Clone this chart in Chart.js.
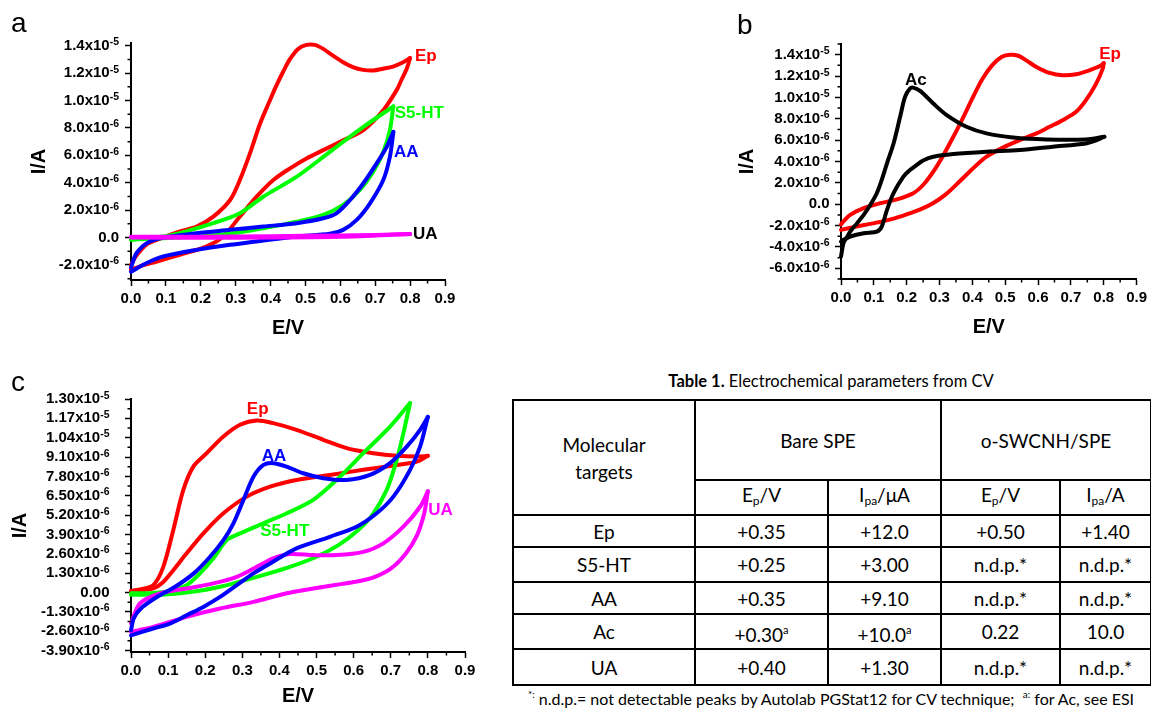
<!DOCTYPE html>
<html>
<head>
<meta charset="utf-8">
<script src="https://cdn.jsdelivr.net/npm/chart.js@4.4.1/dist/chart.umd.min.js"></script>
<style>
  body { margin: 0; background: #fff; }
  #page { position: relative; width: 1151px; height: 708px; overflow: hidden; background: #fff; }
  canvas { position: absolute; }
  .letter { position: absolute; font-family: 'Liberation Sans', Arial, sans-serif; font-size: 28px; line-height: 28px; color: #000; }
  #tblTitle { position: absolute; left: 512px; top: 371px; width: 638px; text-align: center; font-family: Lato, 'Open Sans', sans-serif; font-size: 16.5px; color: #000; }
  #tbl { position: absolute; left: 512px; top: 399px; width: 638px; border-collapse: collapse; table-layout: fixed; font-family: Lato, 'Open Sans', sans-serif; font-size: 19px; color: #000; }
  #tbl td { border: 2px solid #000; text-align: center; vertical-align: middle; padding: 0; line-height: 27px; }
  #tbl sub { font-size: 12px; vertical-align: -3px; }
  #tbl sup { font-size: 11px; vertical-align: 8px; }
  #footnote { position: absolute; left: 505px; top: 688px; width: 652px; text-align: center; font-family: Lato, 'Open Sans', sans-serif; font-size: 16px; color: #000; white-space: nowrap; }
  #footnote sup { font-size: 10px; vertical-align: 7px; }
</style>
</head>
<body>
<div id="page">
  <canvas id="chartA" width="480" height="340" style="left:0;top:0"></canvas>
  <canvas id="chartB" width="431" height="340" style="left:720px;top:0"></canvas>
  <canvas id="chartC" width="480" height="348" style="left:0;top:360px"></canvas>
  <div class="letter" style="left:11px;top:9px">a</div>
  <div class="letter" style="left:737px;top:11px">b</div>
  <div class="letter" style="left:11px;top:368px">c</div>

  <div id="tblTitle"><b>Table 1.</b> Electrochemical parameters from CV</div>
  <table id="tbl">
    <colgroup><col style="width:182px"><col style="width:133px"><col style="width:113px"><col style="width:119px"><col style="width:91px"></colgroup>
    <tr style="height:80px"><td rowspan="2">Molecular<br>targets</td><td colspan="2">Bare SPE</td><td colspan="2">o-SWCNH/SPE</td></tr>
    <tr style="height:32px"><td>E<sub>p</sub>/V</td><td>I<sub>pa</sub>/μA</td><td>E<sub>p</sub>/V</td><td>I<sub>pa</sub>/A</td></tr>
    <tr style="height:32px"><td>Ep</td><td>+0.35</td><td>+12.0</td><td>+0.50</td><td>+1.40</td></tr>
    <tr style="height:35px"><td>S5-HT</td><td>+0.25</td><td>+3.00</td><td>n.d.p.*</td><td>n.d.p.*</td></tr>
    <tr style="height:32px"><td>AA</td><td>+0.35</td><td>+9.10</td><td>n.d.p.*</td><td>n.d.p.*</td></tr>
    <tr style="height:35px"><td>Ac</td><td>+0.30<sup>a</sup></td><td>+10.0<sup>a</sup></td><td>0.22</td><td>10.0</td></tr>
    <tr style="height:36px"><td>UA</td><td>+0.40</td><td>+1.30</td><td>n.d.p.*</td><td>n.d.p.*</td></tr>
  </table>
  <div id="footnote"><sup>*:</sup> n.d.p.= not detectable peaks by Autolab PGStat12 for CV technique;&nbsp; <sup>a:</sup> for Ac, see ESI</div>
</div>

<script>
// Colours
const RED = '#ff0000';
const GREEN = '#00ff00';
const BLUE = '#0000ff';
const MAGENTA = '#ff00ff';
const BLACK = '#000000';
const FONT = "'Liberation Sans', Arial, sans-serif";

// Shared potential axis (E/V)
const xTicks = [0, 0.1, 0.2, 0.3, 0.4, 0.5, 0.6, 0.7, 0.8, 0.9];
const xTickLabels = ['0.0', '0.1', '0.2', '0.3', '0.4', '0.5', '0.6', '0.7', '0.8', '0.9'];
const xMinor = [0.05, 0.15, 0.25, 0.35, 0.45, 0.55, 0.65, 0.75, 0.85];

// Panel a - current in microamps, points are [E, I]
// tick labels are [mantissa part, exponent]
const aYTicks = [-2, 0, 2, 4, 6, 8, 10, 12, 14];
const aYTickLabels = [['-2.0x10', '-6'], ['0.0', ''], ['2.0x10', '-6'], ['4.0x10', '-6'], ['6.0x10', '-6'], ['8.0x10', '-6'], ['1.0x10', '-5'], ['1.2x10', '-5'], ['1.4x10', '-5']];
const aYMinor = [-3, -1, 1, 3, 5, 7, 9, 11, 13];

const aEpForward = [[0, -2.0], [0.016, -1.3], [0.045, -0.5], [0.074, -0.17], [0.14, 0.44], [0.188, 0.8], [0.236, 1.53], [0.284, 2.74], [0.312, 4.2], [0.341, 6.14], [0.37, 8.32], [0.398, 10.0], [0.415, 11.0], [0.436, 12.1], [0.455, 13.0], [0.479, 13.77], [0.503, 14.06], [0.527, 14.06], [0.551, 13.77], [0.579, 13.28], [0.608, 12.8], [0.636, 12.44], [0.665, 12.24], [0.694, 12.19], [0.722, 12.32], [0.751, 12.48], [0.78, 12.8], [0.80, 13.1]];
const aEpReverse = [[0.80, 13.1], [0.79, 12.3], [0.775, 11.5], [0.761, 10.74], [0.723, 9.29], [0.666, 7.83], [0.608, 7.1], [0.551, 6.38], [0.503, 5.77], [0.456, 5.05], [0.408, 4.2], [0.36, 2.98], [0.312, 1.53], [0.264, 0.07], [0.217, -0.65], [0.14, -1.26], [0.074, -1.75], [0.026, -2.1], [0, -2.35]];
const aS5Forward = [[0, -0.12], [0.093, -0.05], [0.188, 0.07], [0.284, 0.27], [0.379, 0.68], [0.475, 1.16], [0.551, 1.65], [0.608, 2.38], [0.656, 3.47], [0.694, 4.8], [0.723, 6.25], [0.742, 7.83], [0.752, 9.58]];
const aS5Reverse = [[0.752, 9.58], [0.666, 8.07], [0.57, 6.25], [0.475, 4.44], [0.379, 2.98], [0.312, 1.77], [0.236, 1.05], [0.14, 0.32], [0.093, 0.07], [0, -0.17]];
const aAAForward = [[0, -2.2], [0.016, -1.13], [0.054, -0.29], [0.112, 0.07], [0.188, 0.32], [0.284, 0.56], [0.379, 0.8], [0.475, 1.05], [0.551, 1.41], [0.589, 1.77], [0.628, 2.74], [0.666, 3.96], [0.704, 5.41], [0.733, 6.62], [0.752, 7.71]];
const aAAReverse = [[0.752, 7.71], [0.742, 5.89], [0.723, 4.2], [0.685, 2.5], [0.647, 1.29], [0.608, 0.56], [0.57, 0.27], [0.475, 0.07], [0.379, -0.22], [0.284, -0.53], [0.188, -0.9], [0.093, -1.38], [0.045, -1.86], [0, -2.5]];
const aUAForward = [[0, 0.05], [0.2, 0.06], [0.4, 0.1], [0.6, 0.15], [0.7, 0.18], [0.8, 0.25]];
const aUAReverse = [[0.8, 0.25], [0.6, 0.05], [0.4, 0.0], [0.2, -0.02], [0, 0.0]];

// Panel b
const bYTicks = [-6, -4, -2, 0, 2, 4, 6, 8, 10, 12, 14];
const bYTickLabels = [['-6.0x10', '-6'], ['-4.0x10', '-6'], ['-2.0x10', '-6'], ['0.0', ''], ['2.0x10', '-6'], ['4.0x10', '-6'], ['6.0x10', '-6'], ['8.0x10', '-6'], ['1.0x10', '-5'], ['1.2x10', '-5'], ['1.4x10', '-5']];
const bYMinor = [-7, -5, -3, -1, 1, 3, 5, 7, 9, 11, 13, 15];

const bEpForward = [[0, -1.9], [0.003, -1.77], [0.028, -1.0], [0.069, -0.37], [0.119, 0.09], [0.17, 0.45], [0.22, 1.03], [0.25, 1.8], [0.28, 3.0], [0.31, 4.5], [0.34, 6.2], [0.37, 8.0], [0.40, 9.9], [0.43, 11.7], [0.46, 13.0], [0.49, 13.8], [0.515, 14.0], [0.54, 13.9], [0.564, 13.47], [0.595, 12.85], [0.635, 12.29], [0.675, 12.07], [0.716, 12.17], [0.756, 12.54], [0.787, 12.91], [0.80, 13.2]];
const bEpReverse = [[0.80, 13.2], [0.797, 12.69], [0.777, 11.29], [0.746, 9.74], [0.716, 8.65], [0.675, 7.87], [0.635, 7.25], [0.595, 6.63], [0.544, 6.0], [0.493, 5.3], [0.443, 4.45], [0.40, 3.3], [0.36, 2.1], [0.32, 0.95], [0.28, 0.1], [0.24, -0.5], [0.2, -0.95], [0.16, -1.35], [0.12, -1.65], [0.07, -1.95], [0.03, -2.2], [0, -2.4]];
const bAcForward = [[0, -4.9], [0.008, -3.6], [0.018, -3.1], [0.028, -2.56], [0.049, -1.77], [0.069, -1.0], [0.089, -0.07], [0.109, 1.03], [0.124, 2.27], [0.14, 3.83], [0.16, 5.69], [0.18, 8.18], [0.195, 10.05], [0.21, 10.83], [0.22, 10.92], [0.241, 10.61], [0.281, 9.43], [0.322, 8.34], [0.382, 7.25], [0.443, 6.63], [0.524, 6.25], [0.625, 6.07], [0.746, 6.07], [0.802, 6.32]];
const bAcReverse = [[0.802, 6.32], [0.77, 5.9], [0.746, 5.69], [0.645, 5.38], [0.544, 5.07], [0.443, 4.92], [0.342, 4.7], [0.281, 4.45], [0.25, 4.1], [0.23, 3.67], [0.21, 3.2], [0.19, 2.58], [0.16, 1.03], [0.14, -0.53], [0.124, -2.09], [0.109, -2.56], [0.069, -2.71], [0.028, -3.02], [0.008, -3.33], [0, -3.5]];

// Panel c
const cYTicks = [-3.9, -2.6, -1.3, 0, 1.3, 2.6, 3.9, 5.2, 6.5, 7.8, 9.1, 10.4, 11.7, 13.0];
const cYTickLabels = [['-3.90x10', '-6'], ['-2.60x10', '-6'], ['-1.30x10', '-6'], ['0.00', ''], ['1.30x10', '-6'], ['2.60x10', '-6'], ['3.90x10', '-6'], ['5.20x10', '-6'], ['6.50x10', '-6'], ['7.80x10', '-6'], ['9.10x10', '-6'], ['1.04x10', '-5'], ['1.17x10', '-5'], ['1.30x10', '-5']];
const cYMinor = [-3.25, -1.95, -0.65, 0.65, 1.95, 3.25, 4.55, 5.85, 7.15, 8.45, 9.75, 11.05, 12.35];

const cEpForward = [[0, 0.1], [0.024, 0.2], [0.06, 0.49], [0.087, 1.72], [0.114, 4.2], [0.141, 6.89], [0.168, 8.46], [0.204, 9.36], [0.249, 10.48], [0.294, 11.27], [0.339, 11.56], [0.383, 11.38], [0.446, 10.93], [0.518, 10.26], [0.581, 9.7], [0.653, 9.36], [0.716, 9.18], [0.77, 9.13], [0.80, 9.18]];
const cEpReverse = [[0.80, 9.18], [0.77, 8.79], [0.716, 8.57], [0.626, 8.24], [0.536, 7.9], [0.446, 7.56], [0.375, 7.11], [0.312, 6.44], [0.249, 5.32], [0.195, 3.97], [0.15, 2.63], [0.114, 1.5], [0.087, 0.71], [0.06, 0.27], [0.024, 0.15], [0, 0.1]];
const cS5Forward = [[0, -0.15], [0.06, -0.15], [0.12, -0.08], [0.18, 0.1], [0.24, 0.38], [0.33, 0.98], [0.42, 1.65], [0.5, 2.4], [0.56, 3.2], [0.61, 4.15], [0.65, 5.2], [0.689, 6.89], [0.716, 8.91], [0.734, 10.7], [0.752, 12.73]];
const cS5Reverse = [[0.752, 12.73], [0.698, 11.15], [0.626, 9.36], [0.554, 7.56], [0.491, 6.22], [0.42, 5.32], [0.357, 4.65], [0.294, 3.97], [0.258, 3.52], [0.222, 2.3], [0.186, 1.28], [0.15, 0.49], [0.105, 0.1], [0.05, -0.05], [0, -0.05]];
const cAAForward = [[0, -2.88], [0.06, -2.42], [0.105, -2.09], [0.15, -1.53], [0.195, -0.97], [0.24, -0.3], [0.285, 0.49], [0.33, 1.28], [0.375, 1.95], [0.446, 2.96], [0.536, 3.74], [0.608, 4.42], [0.662, 5.32], [0.707, 6.44], [0.752, 8.24], [0.779, 9.8], [0.80, 11.8]];
const cAAReverse = [[0.80, 11.8], [0.779, 10.93], [0.743, 9.8], [0.698, 8.69], [0.644, 7.9], [0.581, 7.56], [0.518, 7.68], [0.464, 8.01], [0.419, 8.46], [0.383, 8.69], [0.357, 8.57], [0.33, 7.78], [0.303, 6.22], [0.276, 4.65], [0.249, 3.52], [0.213, 2.4], [0.17, 1.3], [0.12, 0.4], [0.07, -0.3], [0.03, -1.0], [0.008, -1.7], [0, -2.54]];
const cUAForward = [[0, -2.65], [0.06, -2.32], [0.15, -1.64], [0.24, -1.08], [0.33, -0.63], [0.42, -0.05], [0.5, 0.3], [0.55, 0.5], [0.6, 0.7], [0.65, 0.98], [0.7, 1.6], [0.74, 2.6], [0.77, 3.8], [0.79, 5.3], [0.80, 6.8]];
const cUAReverse = [[0.80, 6.8], [0.779, 5.76], [0.734, 4.42], [0.68, 3.3], [0.626, 2.73], [0.554, 2.51], [0.491, 2.51], [0.428, 2.58], [0.383, 2.29], [0.339, 1.72], [0.285, 1.05], [0.222, 0.61], [0.15, 0.27], [0.078, -0.07], [0.024, -0.74], [0, -2.09]];

// Curve name labels, anchored at [E, I] of their left edge
const aNames = [
    { text: 'Ep', e: 0.814, i: 13.2, color: RED },
    { text: 'S5-HT', e: 0.756, i: 9.05, color: GREEN },
    { text: 'AA', e: 0.754, i: 6.25, color: BLUE },
    { text: 'UA', e: 0.808, i: 0.2, color: BLACK }
];
const bNames = [
    { text: 'Ac', e: 0.195, i: 11.6, color: BLACK },
    { text: 'Ep', e: 0.786, i: 14.0, color: RED }
];
const cNames = [
    { text: 'Ep', e: 0.312, i: 12.28, color: RED },
    { text: 'AA', e: 0.352, i: 9.13, color: BLUE },
    { text: 'S5-HT', e: 0.348, i: 4.08, color: GREEN },
    { text: 'UA', e: 0.801, i: 5.54, color: MAGENTA }
];

function curve(points, color) {
    return {
        data: points.map(p => ({ x: p[0], y: p[1] })),
        borderColor: color,
        backgroundColor: color,
        showLine: true,
        pointRadius: 0,
        borderWidth: 4,
        tension: 0.3,
        borderCapStyle: 'round',
        borderJoinStyle: 'round',
        clip: false
    };
}

// Short outward ticks between the labelled ones
function minorTicks(xVals, yVals) {
    return {
        id: 'minorTicks',
        afterDraw(chart) {
            const { ctx } = chart;
            const x = chart.scales.x;
            const y = chart.scales.y;
            ctx.save();
            ctx.strokeStyle = '#000';
            ctx.lineWidth = 1.5;
            ctx.beginPath();
            xVals.forEach(v => {
                const px = x.getPixelForValue(v);
                ctx.moveTo(px, x.top);
                ctx.lineTo(px, x.top + 3.5);
            });
            yVals.forEach(v => {
                const py = y.getPixelForValue(v);
                ctx.moveTo(y.right, py);
                ctx.lineTo(y.right - 3.5, py);
            });
            ctx.stroke();
            ctx.restore();
        }
    };
}

// y tick labels with a raised exponent, e.g. 1.4x10 with -5 above
function yTickText(vals, labels, pad) {
    return {
        id: 'yTickText',
        afterDraw(chart) {
            const { ctx } = chart;
            const y = chart.scales.y;
            const right = y.right - 6 - pad;
            ctx.save();
            ctx.fillStyle = '#000';
            ctx.textAlign = 'right';
            vals.forEach((v, k) => {
                const py = y.getPixelForValue(v);
                const base = labels[k][0];
                const exp = labels[k][1];
                let ew = 0;
                if (exp) {
                    ctx.font = 'bold 10.5px ' + FONT;
                    ew = ctx.measureText(exp).width;
                    ctx.textBaseline = 'alphabetic';
                    ctx.fillText(exp, right, py - 0.5);
                }
                ctx.font = 'bold 15px ' + FONT;
                ctx.textBaseline = 'middle';
                ctx.fillText(base, right - ew, py);
            });
            ctx.restore();
        }
    };
}

function curveNames(items) {
    return {
        id: 'curveNames',
        afterDatasetsDraw(chart) {
            const { ctx } = chart;
            const x = chart.scales.x;
            const y = chart.scales.y;
            ctx.save();
            ctx.font = 'bold 17px ' + FONT;
            ctx.textAlign = 'left';
            ctx.textBaseline = 'middle';
            items.forEach(l => {
                ctx.fillStyle = l.color;
                ctx.fillText(l.text, x.getPixelForValue(l.e), y.getPixelForValue(l.i));
            });
            ctx.restore();
        }
    };
}

function buildChart(id, cfg) {
    const tickFont = { family: FONT, size: 15, weight: 'bold' };
    const titleFont = { family: FONT, size: 20, weight: 'bold', lineHeight: 1 };
    const gridCfg = { display: true, drawOnChartArea: false, drawTicks: true, tickLength: 6, tickWidth: 1.5, tickColor: '#000', color: '#000' };
    return new Chart(document.getElementById(id), {
        type: 'scatter',
        data: { datasets: cfg.datasets },
        options: {
            responsive: false,
            animation: false,
            events: [],
            layout: { padding: cfg.padding },
            plugins: { legend: { display: false }, tooltip: { enabled: false } },
            scales: {
                x: {
                    type: 'linear',
                    min: 0,
                    max: 0.9,
                    grid: gridCfg,
                    border: { display: true, color: '#000', width: 2 },
                    afterBuildTicks: s => { s.ticks = xTicks.map(v => ({ value: v })); },
                    afterFit: s => { s.height = cfg.xHeight; },
                    ticks: { autoSkip: false, maxRotation: 0, padding: 4, color: '#000', font: tickFont, callback: (v, i) => xTickLabels[i] },
                    title: { display: true, text: 'E/V', color: '#000', font: titleFont, padding: { top: 0, bottom: cfg.xTitlePad } }
                },
                y: {
                    type: 'linear',
                    min: cfg.yMin,
                    max: cfg.yMax,
                    grid: gridCfg,
                    border: { display: true, color: '#000', width: 2 },
                    afterBuildTicks: s => { s.ticks = cfg.yTicks.map(v => ({ value: v })); },
                    afterFit: s => { s.width = cfg.yWidth; },
                    ticks: { display: false },
                    title: { display: true, text: 'I/A', color: '#000', font: titleFont, padding: { top: cfg.yTitlePad, bottom: 0 } }
                }
            }
        },
        plugins: [minorTicks(xMinor, cfg.yMinor), yTickText(cfg.yTicks, cfg.yTickLabels, cfg.yTickPad), curveNames(cfg.names)]
    });
}

// Panel a: first dataset is drawn on top
buildChart('chartA', {
    datasets: [
        curve(aUAForward, MAGENTA), curve(aUAReverse, MAGENTA),
        curve(aAAForward, BLUE), curve(aAAReverse, BLUE),
        curve(aS5Forward, GREEN), curve(aS5Reverse, GREEN),
        curve(aEpForward, RED), curve(aEpReverse, RED)
    ],
    padding: { left: 0, top: 43, right: 35, bottom: 0 },
    yWidth: 131, xHeight: 60,
    yMin: -3.1, yMax: 14.2,
    yTicks: aYTicks, yTickLabels: aYTickLabels, yMinor: aYMinor,
    yTickPad: 6, yTitlePad: 29, xTitlePad: 2,
    names: aNames
});

buildChart('chartB', {
    datasets: [
        curve(bAcForward, BLACK), curve(bAcReverse, BLACK),
        curve(bEpForward, RED), curve(bEpReverse, RED)
    ],
    padding: { left: 0, top: 44, right: 14, bottom: 0 },
    yWidth: 121, xHeight: 61,
    yMin: -7, yMax: 15,
    yTicks: bYTicks, yTickLabels: bYTickLabels, yMinor: bYMinor,
    yTickPad: 5.5, yTitlePad: 17, xTitlePad: 3,
    names: bNames
});

buildChart('chartC', {
    datasets: [
        curve(cAAForward, BLUE), curve(cAAReverse, BLUE),
        curve(cUAForward, MAGENTA), curve(cUAReverse, MAGENTA),
        curve(cS5Forward, GREEN), curve(cS5Reverse, GREEN),
        curve(cEpForward, RED), curve(cEpReverse, RED)
    ],
    padding: { left: 0, top: 39, right: 15, bottom: 0 },
    yWidth: 131, xHeight: 56,
    yMin: -4.0, yMax: 13.0,
    yTicks: cYTicks, yTickLabels: cYTickLabels, yMinor: cYMinor,
    yTickPad: 15.5, yTitlePad: 10, xTitlePad: 2,
    names: cNames
});
</script>
</body>
</html>
